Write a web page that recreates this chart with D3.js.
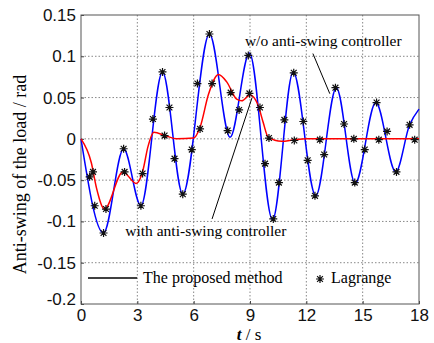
<!DOCTYPE html>
<html>
<head>
<meta charset="utf-8">
<script src="https://cdn.jsdelivr.net/npm/d3@7"></script>
<style>
  body { margin: 0; background: #fff; }
  svg { display: block; }
</style>
</head>
<body>
<div id="chart"></div>
<script>
// data
const xTicks = [0, 3, 6, 9, 12, 15, 18];
const yTicks = [0.15, 0.1, 0.05, 0, -0.05, -0.1, -0.15, -0.2];
const yTickLabels = ['0.15', '0.1', '0.05', '0', '-0.05', '-0.1', '-0.15', '-0.2'];

// w/o anti-swing controller (blue)
const blueT = [0, 1.2, 2.27, 3.19, 4.34, 5.42, 6.84, 7.94, 8.97, 10.2, 11.3, 12.5, 13.6, 14.6, 15.7, 16.76, 17.5, 18];
const blueY = [0, -0.114, -0.012, -0.081, 0.081, -0.067, 0.127, 0.002, 0.104, -0.098, 0.081, -0.069, 0.062, -0.054, 0.044, -0.040, 0.017, 0.036];

// with anti-swing controller (red)
const redT = [0, 0.55, 0.82, 1.25, 2.23, 2.94, 3.3, 3.56, 3.88, 4.48, 5.1, 6.0, 6.34, 6.79, 7.32, 7.76, 8.29, 8.56, 9.0, 9.44, 9.7, 9.97, 10.68, 11.39, 12.0, 18];
const redY = [0, -0.029, -0.059, -0.085, -0.040, -0.054, -0.038, -0.010, 0.008, 0.004, 0, 0.001, 0.014, 0.054, 0.078, 0.069, 0.048, 0.046, 0.053, 0.040, 0.020, 0.002, -0.003, -0.001, 0, 0];

// Lagrange markers
const lagT = [0.46, 0.64, 0.73, 1.2, 1.33, 2.27, 2.32, 3.19, 3.28, 3.83, 4.34, 4.45, 4.71, 4.98, 5.42, 5.9, 6.2, 6.34, 6.84, 6.98,
  7.81, 7.97, 8.42, 8.91, 8.97, 9.53, 9.8, 10.01, 10.24, 10.54, 10.83, 11.33, 11.36, 11.84, 12.07, 12.46, 12.72, 12.95, 13.55, 14.01,
  14.53, 14.58, 15.11, 15.74, 15.86, 16.3, 16.8, 17.5, 17.77];
const lagY = [-0.046, -0.040, -0.081, -0.114, -0.085, -0.012, -0.040, -0.081, -0.042, 0.024, 0.081, 0.004, 0.038, -0.024, -0.067, -0.013, 0.067, 0.012, 0.127, 0.067,
  0.010, 0.056, 0.035, 0.101, 0.055, 0.038, -0.030, 0.001, -0.097, -0.053, 0.023, 0.080, -0.002, 0.021, -0.026, -0.069, -0.001, -0.019, 0.062, 0.018,
  0.000, -0.053, -0.013, 0.044, -0.001, 0.009, -0.040, 0.017, -0.001];

const width = 434, height = 343;
const margin = { top: 15, right: 15, bottom: 39, left: 81 };
const innerW = width - margin.left - margin.right;
const innerH = height - margin.top - margin.bottom;

const svg = d3.select('#chart').append('svg')
  .attr('width', width)
  .attr('height', height);

const g = svg.append('g')
  .attr('transform', `translate(${margin.left},${margin.top})`);

const x = d3.scaleLinear().domain([0, 18]).range([0, innerW]);
const y = d3.scaleLinear().domain([-0.2, 0.15]).range([innerH, 0]);

// grid
g.append('g').selectAll('line')
  .data(xTicks.slice(1, -1))
  .join('line')
  .attr('x1', d => x(d)).attr('x2', d => x(d))
  .attr('y1', 0).attr('y2', innerH)
  .attr('stroke', '#888').attr('stroke-dasharray', '1.5,2');

g.append('g').selectAll('line')
  .data(yTicks.slice(1, -1))
  .join('line')
  .attr('y1', d => y(d)).attr('y2', d => y(d))
  .attr('x1', 0).attr('x2', innerW)
  .attr('stroke', '#888').attr('stroke-dasharray', '1.5,2');

// axes
const xAxis = g.append('g')
  .attr('transform', `translate(0,${innerH})`)
  .call(d3.axisBottom(x).tickValues(xTicks).tickSize(-3).tickPadding(5).tickFormat(d3.format('d')));

const yAxis = g.append('g')
  .call(d3.axisLeft(y).tickValues(yTicks).tickSize(-3).tickPadding(5).tickFormat((d, i) => yTickLabels[i]));

[xAxis, yAxis].forEach(a => {
  a.select('.domain').remove();
  a.selectAll('line').attr('stroke', '#444');
  a.selectAll('text')
    .attr('fill', '#111')
    .style('font-family', '"Liberation Sans", Arial, sans-serif')
    .style('font-size', '17px');
});
// MATLAB lifts the lowest y label a bit
yAxis.selectAll('text').filter(d => d === -0.2).attr('dy', '0.05em');

// box
g.append('rect')
  .attr('width', innerW).attr('height', innerH)
  .attr('fill', 'none').attr('stroke', '#555').attr('stroke-width', 1);

// curves
const line = d3.line()
  .x(d => x(d[0]))
  .y(d => y(d[1]))
  .curve(d3.curveMonotoneX);

g.append('path')
  .datum(blueT.map((t, i) => [t, blueY[i]]))
  .attr('fill', 'none').attr('stroke', '#0000ff').attr('stroke-width', 1.5)
  .attr('d', line);

g.append('path')
  .datum(redT.map((t, i) => [t, redY[i]]))
  .attr('fill', 'none').attr('stroke', '#ff0000').attr('stroke-width', 1.5)
  .attr('d', line);

// asterisk markers
const star = 'M-4,0H4M0,-4V4M-2.9,-2.9L2.9,2.9M-2.9,2.9L2.9,-2.9';
g.append('g').selectAll('path')
  .data(lagT.map((t, i) => [t, lagY[i]]))
  .join('path')
  .attr('transform', d => `translate(${x(d[0])},${y(d[1])})`)
  .attr('d', star)
  .attr('fill', 'none').attr('stroke', '#111').attr('stroke-width', 1.2);

// annotations
const serif = '"Liberation Serif", "Times New Roman", serif';

g.append('line')
  .attr('x1', x(12.35)).attr('y1', y(0.1033))
  .attr('x2', x(13.25)).attr('y2', y(0.0547))
  .attr('stroke', '#000').attr('stroke-width', 1);

g.append('line')
  .attr('x1', x(6.98)).attr('y1', y(-0.097))
  .attr('x2', x(9.11)).attr('y2', y(0.050))
  .attr('stroke', '#000').attr('stroke-width', 1);

g.append('text')
  .attr('x', x(8.73)).attr('y', y(0.112))
  .style('font-family', serif).style('font-size', '15.5px')
  .text('w/o anti-swing controller');

g.append('text')
  .attr('x', x(2.36)).attr('y', y(-0.118))
  .style('font-family', serif).style('font-size', '15.5px')
  .text('with anti-swing controller');

// legend
const legend = g.append('g')
  .attr('transform', `translate(7,${innerH - 26})`);

legend.append('line')
  .attr('x1', 0).attr('x2', 49)
  .attr('stroke', '#000').attr('stroke-width', 1.5);

legend.append('text')
  .attr('x', 55).attr('y', 5)
  .style('font-family', serif).style('font-size', '16px')
  .text('The proposed method');

legend.append('path')
  .attr('transform', 'translate(232,1)')
  .attr('d', star)
  .attr('fill', 'none').attr('stroke', '#111').attr('stroke-width', 1.2);

legend.append('text')
  .attr('x', 243).attr('y', 5)
  .style('font-family', serif).style('font-size', '16px')
  .text('Lagrange');

// axis labels
svg.append('text')
  .attr('transform', `translate(26,${margin.top + innerH / 2 + 15}) rotate(-90)`)
  .style('text-anchor', 'middle')
  .style('font-family', serif).style('font-size', '18px')
  .text('Anti-swing of the load / rad');

const xl = svg.append('text')
  .attr('x', margin.left + innerW / 2 - 1).attr('y', 340)
  .style('text-anchor', 'middle')
  .style('font-family', serif).style('font-size', '17px');
xl.append('tspan').style('font-style', 'italic').style('font-weight', 'bold').text('t');
xl.append('tspan').text(' / s');
</script>
</body>
</html>
